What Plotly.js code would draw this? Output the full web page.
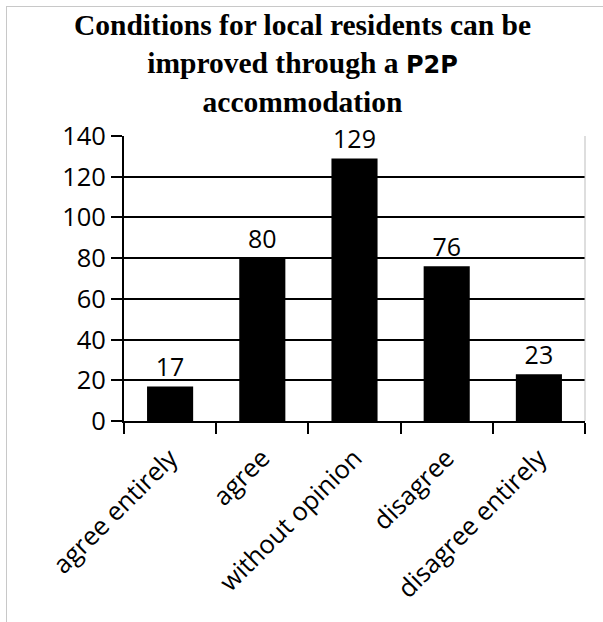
<!DOCTYPE html>
<html>
<head>
<meta charset="utf-8">
<script src="https://cdn.plot.ly/plotly-3.0.1.min.js"></script>
<style>
  html, body { margin: 0; padding: 0; background: #fff; }
  #wrap { position: relative; width: 603px; height: 622px; }
  #chart { width: 603px; height: 622px; }
  #frame { position: absolute; left: 6px; top: 6px; right: -2px; bottom: -2px;
           border-top: 1.5px solid #c8c8c8; border-left: 1.5px solid #c8c8c8; pointer-events: none; }
</style>
</head>
<body>
<div id="wrap">
  <div id="chart"></div>
  <div id="frame"></div>
</div>
<script>
const categories = ["agree entirely", "agree", "without opinion", "disagree", "disagree entirely"];
const values = [17, 80, 129, 76, 23];
const yTicks = [0, 20, 40, 60, 80, 100, 120, 140];
const titleText = "Conditions for local residents can be<br>improved through a <span style=\"font-family:'DejaVu Sans';font-size:24px\">P2P</span><br>accommodation";

const trace = {
  type: "bar",
  x: categories,
  y: values,
  text: values.map(String),
  textposition: "outside",
  cliponaxis: false,
  textfont: { family: "Open Sans", size: 25, color: "#000" },
  marker: { color: "#000", line: { width: 0 } },
  hoverinfo: "none"
};

const layout = {
  width: 603, height: 622,
  margin: { l: 124, r: 18, t: 136, b: 200.5 },
  paper_bgcolor: "#fff",
  plot_bgcolor: "#fff",
  bargap: 0.5,
  showlegend: false,
  annotations: [{
    text: titleText,
    xref: "paper", yref: "paper",
    x: 0.388, y: 1.452, xanchor: "center", yanchor: "top",
    showarrow: false, align: "center",
    font: { family: "Liberation Serif", size: 29.5, color: "#000", weight: "bold" }
  }],
  xaxis: {
    type: "category",
    tickangle: -45,
    tickson: "boundaries",
    ticks: "outside", ticklen: 11, tickwidth: 2, tickcolor: "#000",
    ticklabelstandoff: 10,
    showline: true, linecolor: "#000", linewidth: 2,
    showgrid: false, zeroline: false,
    tickfont: { family: "Open Sans", size: 25.5, color: "#000" }
  },
  yaxis: {
    range: [0, 140],
    tickvals: yTicks,
    ticktext: yTicks.map(String),
    ticks: "outside", ticklen: 11, tickwidth: 2, tickcolor: "#000",
    showline: true, linecolor: "#000", linewidth: 2,
    showgrid: true, gridcolor: "#000", gridwidth: 2,
    zeroline: false,
    tickfont: { family: "Open Sans", size: 25.5, color: "#000" }
  },
  shapes: [
    { type: "line", xref: "paper", yref: "paper", x0: 1, x1: 1, y0: 0, y1: 1,
      line: { color: "#bdbdbd", width: 1 } }
  ]
};

Plotly.newPlot("chart", [trace], layout, { staticPlot: true, displayModeBar: false });
</script>
</body>
</html>
